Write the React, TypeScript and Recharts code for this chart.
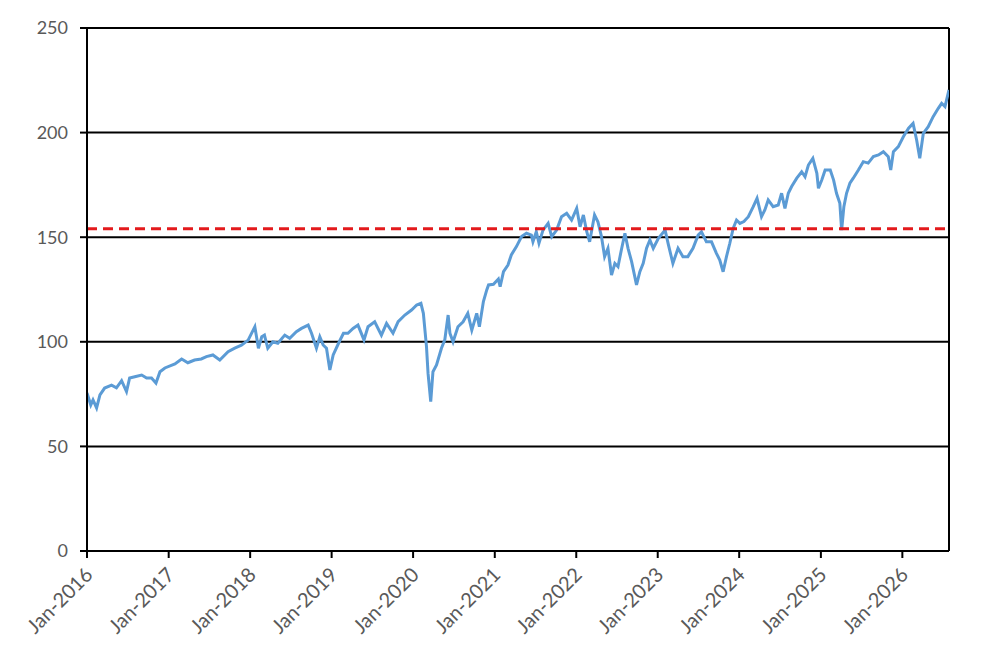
import { CartesianGrid, Line, LineChart, ReferenceLine, XAxis, YAxis } from 'recharts';

// index level, with a few points per month
const dates = [
  '2016-01-01', '2016-01-18', '2016-01-28', '2016-02-13', '2016-02-28', '2016-03-20', '2016-04-20', '2016-05-12',
  '2016-06-04', '2016-06-26', '2016-07-10', '2016-08-02', '2016-09-02', '2016-09-24', '2016-10-16', '2016-11-05',
  '2016-11-23', '2016-12-15', '2017-01-29', '2017-02-28', '2017-03-28', '2017-04-27', '2017-05-27', '2017-06-19',
  '2017-07-18', '2017-08-18', '2017-09-24', '2017-10-24', '2017-11-23', '2017-12-23', '2018-01-22', '2018-02-07',
  '2018-02-22', '2018-03-06', '2018-03-21', '2018-04-13', '2018-05-05', '2018-06-05', '2018-06-27', '2018-07-27',
  '2018-08-19', '2018-09-18', '2018-10-03', '2018-10-25', '2018-11-09', '2018-11-24', '2018-12-09', '2018-12-24',
  '2019-01-08', '2019-02-01', '2019-02-23', '2019-03-15', '2019-04-07', '2019-04-29', '2019-05-26', '2019-06-13',
  '2019-07-13', '2019-08-12', '2019-09-04', '2019-10-03', '2019-10-26', '2019-11-25', '2019-12-25', '2020-01-17',
  '2020-02-05', '2020-02-16', '2020-03-01', '2020-03-08', '2020-03-20', '2020-03-30', '2020-04-15', '2020-05-07',
  '2020-05-22', '2020-06-06', '2020-06-14', '2020-06-28', '2020-07-20', '2020-08-12', '2020-09-02', '2020-09-20',
  '2020-10-12', '2020-10-24', '2020-11-11', '2020-11-26', '2020-12-04', '2020-12-26', '2021-01-17', '2021-01-25',
  '2021-02-09', '2021-03-01', '2021-03-16', '2021-04-08', '2021-05-01', '2021-05-23', '2021-06-14', '2021-06-21',
  '2021-07-06', '2021-07-18', '2021-08-05', '2021-08-28', '2021-09-13', '2021-10-05', '2021-10-27', '2021-11-19',
  '2021-12-11', '2022-01-03', '2022-01-18', '2022-02-02', '2022-02-17', '2022-03-02', '2022-03-24', '2022-04-08',
  '2022-04-24', '2022-05-08', '2022-05-23', '2022-06-08', '2022-06-23', '2022-07-07', '2022-07-22', '2022-08-07',
  '2022-08-21', '2022-09-06', '2022-09-28', '2022-10-13', '2022-10-28', '2022-11-12', '2022-11-27', '2022-12-12',
  '2023-01-04', '2023-02-03', '2023-02-18', '2023-03-10', '2023-04-02', '2023-04-24', '2023-05-16', '2023-06-08',
  '2023-07-01', '2023-07-16', '2023-08-07', '2023-08-30', '2023-09-21', '2023-10-06', '2023-10-21', '2023-11-05',
  '2023-11-20', '2023-12-05', '2023-12-20', '2024-01-04', '2024-01-22', '2024-02-11', '2024-03-04', '2024-03-21',
  '2024-04-10', '2024-04-25', '2024-05-10', '2024-06-01', '2024-06-24', '2024-07-09', '2024-07-24', '2024-08-08',
  '2024-08-23', '2024-09-15', '2024-10-07', '2024-10-22', '2024-11-06', '2024-11-26', '2024-12-14', '2024-12-21',
  '2025-01-05', '2025-01-20', '2025-02-12', '2025-02-27', '2025-03-12', '2025-03-27', '2025-04-04', '2025-04-14',
  '2025-04-26', '2025-05-11', '2025-05-26', '2025-06-18', '2025-07-10', '2025-08-01', '2025-08-24', '2025-09-16',
  '2025-10-08', '2025-10-30', '2025-11-10', '2025-11-22', '2025-12-14', '2026-01-06', '2026-01-29', '2026-02-18',
  '2026-03-06', '2026-03-20', '2026-04-05', '2026-04-27', '2026-05-19', '2026-06-11', '2026-06-26', '2026-07-11',
  '2026-07-29',
];

const values = [
  75.5, 69.8, 72.2, 68.4, 74.6, 77.9, 79.3, 78.0,
  81.4, 76.2, 82.7, 83.3, 84.1, 82.7, 82.7, 80.3,
  85.7, 87.5, 89.4, 91.8, 90.0, 91.3, 91.8, 92.9,
  93.7, 91.3, 95.3, 97.0, 98.4, 100.8, 107.2, 96.9,
  102.4, 103.2, 96.9, 100.0, 99.3, 103.2, 101.7, 104.8,
  106.4, 108.0, 104.1, 96.9, 102.4, 98.5, 96.9, 86.5,
  93.7, 99.3, 104.1, 104.1, 106.4, 108.0, 100.9, 107.2,
  109.6, 103.2, 108.8, 104.1, 109.6, 112.8, 115.2, 117.6,
  118.4, 113.6, 97.7, 84.9, 71.4, 85.7, 88.9, 96.9,
  100.9, 112.8, 104.1, 100.0, 107.2, 109.6, 113.6, 105.6,
  113.6, 107.2, 119.2, 124.8, 127.2, 127.5, 130.0, 126.3,
  133.5, 136.7, 141.5, 145.5, 150.3, 151.9, 151.0, 147.8,
  152.6, 147.1, 153.4, 156.6, 150.3, 153.4, 159.8, 161.4,
  158.2, 163.8, 155.0, 160.6, 152.6, 147.8, 160.6, 157.4,
  150.3, 140.7, 144.7, 131.9, 137.5, 135.9, 143.9, 151.9,
  144.7, 138.3, 127.2, 133.5, 137.5, 144.7, 148.7, 144.7,
  149.5, 153.4, 146.3, 137.5, 144.7, 140.7, 140.7, 144.7,
  151.0, 152.6, 147.8, 147.8, 142.3, 139.1, 133.5, 140.7,
  147.1, 154.2, 158.2, 156.6, 157.5, 159.8, 164.6, 168.6,
  159.8, 163.0, 167.8, 164.6, 165.4, 171.0, 163.8, 171.0,
  174.2, 178.2, 181.3, 178.9, 184.5, 187.7, 180.5, 173.4,
  177.3, 182.1, 182.1, 177.3, 171.0, 166.2, 153.4, 164.6,
  171.0, 175.8, 178.2, 182.1, 186.1, 185.4, 188.5, 189.3,
  190.9, 188.5, 182.1, 190.9, 193.3, 198.1, 202.1, 204.4,
  196.5, 187.7, 199.7, 202.8, 207.6, 211.6, 214.0, 212.4,
  220.4,
];

const threshold = 154;
const yTicks = [0, 50, 100, 150, 200, 250];
const tickYears = [2016, 2017, 2018, 2019, 2020, 2021, 2022, 2023, 2024, 2025, 2026];

const toTime = (s: string) => {
  const [y, m, d] = s.split('-').map(Number);
  return Date.UTC(y, m - 1, d);
};

const data = dates.map((d, i) => ({ t: toTime(d), v: values[i] }));
const xTicks = tickYears.map((y) => Date.UTC(y, 0, 1));
const xStart = xTicks[0];
const xEnd = data[data.length - 1].t;

const font = 'Lato, "Open Sans", sans-serif';
const grey = '#595959';

function DateTick({ x, y, payload }: any) {
  const year = new Date(payload.value).getUTCFullYear();
  return (
    <text
      x={0}
      y={0}
      transform={`translate(${x + 7},${y + 16}) rotate(-45)`}
      textAnchor="end"
      fill={grey}
      fontSize={20}
      fontFamily={font}
    >
      {`Jan-${year}`}
    </text>
  );
}

export default function App() {
  return (
    <div style={{ position: 'absolute', left: 0, top: 0, background: '#fff' }}>
      <LineChart width={998} height={663} data={data} margin={{ top: 28, right: 49, bottom: 0, left: 0 }}>
        <CartesianGrid vertical={false} stroke="#000" strokeWidth={2} strokeOpacity={1} />
        <XAxis
          dataKey="t"
          type="number"
          scale="time"
          domain={[xStart, xEnd]}
          ticks={xTicks}
          height={112}
          tickSize={7}
          tick={<DateTick />}
          axisLine={{ stroke: '#000', strokeWidth: 2 }}
          tickLine={{ stroke: '#000', strokeWidth: 2 }}
          interval={0}
          allowDataOverflow
        />
        <YAxis
          type="number"
          domain={[0, 250]}
          ticks={yTicks}
          width={87}
          tickSize={7}
          tickMargin={12}
          tick={{ fill: grey, fontSize: 18, fontFamily: font }}
          axisLine={{ stroke: '#000', strokeWidth: 2 }}
          tickLine={{ stroke: '#000', strokeWidth: 2 }}
          interval={0}
        />
        <ReferenceLine x={xEnd} stroke="#000" strokeWidth={2} />
        <Line
          type="linear"
          dataKey="v"
          stroke="#5b9bd5"
          strokeWidth={3}
          dot={false}
          isAnimationActive={false}
        />
        <ReferenceLine y={threshold} stroke="#e31a1c" strokeWidth={3} strokeDasharray="10 6" />
      </LineChart>
    </div>
  );
}
